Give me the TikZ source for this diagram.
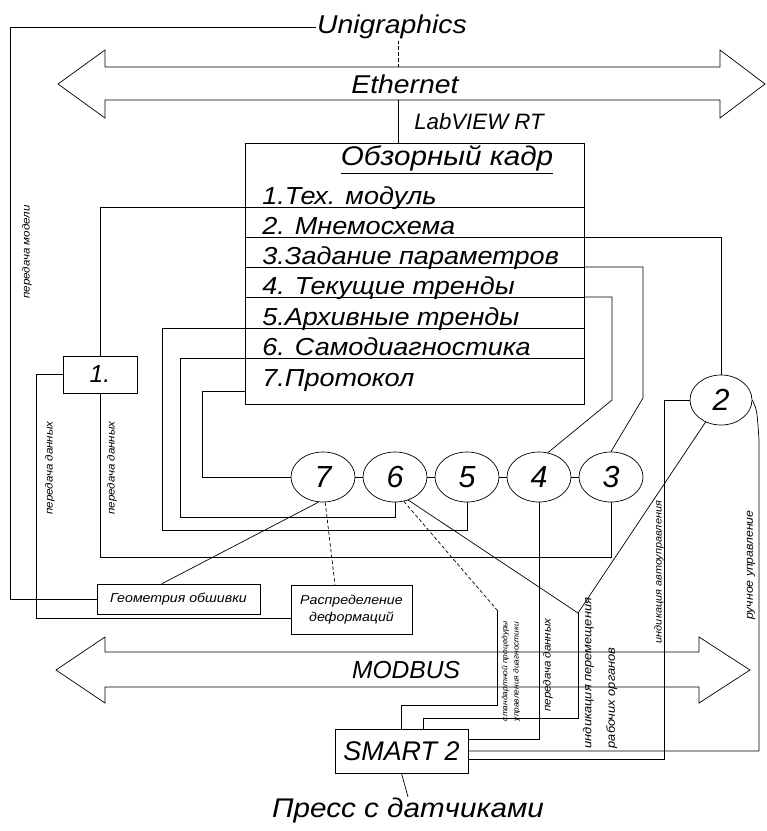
\documentclass[tikz,border=0pt]{standalone}
\usepackage{fontspec}
\setmainfont{Liberation Sans}
\newfontfamily\widefont[FakeStretch=1.1]{Liberation Sans}
\usetikzlibrary{calc, shapes.geometric, positioning}

\begin{document}
\begin{tikzpicture}[x=0.03cm, y=-0.03cm, line width=0.6pt,
    lbl/.style={inner sep=1pt, font=\itshape\fontsize{20}{22}\selectfont},
    item/.style={anchor=base west, inner sep=0pt, font=\widefont\itshape\fontsize{21}{23}\selectfont},
    oval/.style={draw, ellipse, minimum width=1.92cm, minimum height=1.5cm, inner sep=0pt, font=\itshape\fontsize{26}{28}\selectfont},
    boxnode/.style={draw, inner sep=0pt, align=center},
    note/.style={rotate=90, inner sep=0pt, font=\widefont\itshape\fontsize{9}{10}\selectfont}]

    \useasboundingbox (0,0) rectangle (767,831);

    % =================================================================
    % 1. BUS ARROWS (Ethernet, MODBUS)
    % =================================================================
    \draw (58,84) -- (105,50) -- (105,67) -- (720,67) -- (720,50) -- (765,84)
          -- (720,118) -- (720,100) -- (105,100) -- (105,118) -- cycle;
    \draw (56,670) -- (105,637) -- (105,652) -- (699,652) -- (699,637) -- (750,670)
          -- (699,703) -- (699,687) -- (105,687) -- (105,703) -- cycle;

    \coordinate (ethN) at (398,67);
    \coordinate (ethS) at (398,100);

    \node[lbl, font=\widefont\itshape\fontsize{22}{24}\selectfont] (uni) at (392,27) {Unigraphics};
    \node[lbl, font=\widefont\itshape\fontsize{22}{24}\selectfont] (eth) at (405,84) {Ethernet};
    \node[lbl, font=\itshape\fontsize{21}{23}\selectfont] (mod) at (406,670) {MODBUS};
    \node[lbl, font=\itshape\fontsize{19}{21}\selectfont] (lab) at (479,122) {LabVIEW RT};

    % =================================================================
    % 2. MAIN SCREEN BOX WITH ITEMS
    % =================================================================
    \node[draw, minimum width=10.17cm, minimum height=7.83cm, inner sep=0pt] (frame) at (414.5,273.5) {};
    \node[font=\widefont\itshape\fontsize{23}{25}\selectfont] (title) at (447,160) {\underline{Обзорный кадр}};

    \node[item] (i1) at (262,204) {1.Тех. модуль};
    \node[item] (i2) at (262,234) {2. Мнемосхема};
    \node[item] (i3) at (262,264) {3.Задание параметров};
    \node[item] (i4) at (262,294) {4. Текущие тренды};
    \node[item] (i5) at (262,325) {5.Архивные тренды};
    \node[item] (i6) at (262,355) {6. Самодиагностика};
    \node[item] (i7) at (262,386) {7.Протокол};

    \foreach \y in {207,237,267,297,328,358}
        \draw (frame.west |- 0,\y) -- (frame.east |- 0,\y);

    % =================================================================
    % 3. MODULES (ovals and boxes)
    % =================================================================
    \node[oval] (c7) at (323,477) {7};
    \node[oval] (c6) at (395,477) {6};
    \node[oval] (c5) at (467,477) {5};
    \node[oval] (c4) at (539,477) {4};
    \node[oval] (c3) at (611,477) {3};
    \node[oval, minimum width=1.86cm] (c2) at (721,400) {2};

    \node[boxnode, minimum width=2.22cm, minimum height=1.11cm, font=\itshape\fontsize{21}{23}\selectfont] (m1) at (100,374.5) {1.};
    \node[boxnode, minimum width=4.89cm, minimum height=0.9cm, font=\widefont\itshape\fontsize{11}{13}\selectfont] (geo) at (178.5,599) {Геометрия обшивки};
    \node[boxnode, minimum width=3.63cm, minimum height=1.47cm, font=\widefont\itshape\fontsize{11}{14}\selectfont] (def) at (351.5,609.5) {Распределение\\деформаций};
    \node[boxnode, minimum width=3.99cm, minimum height=1.32cm, font=\itshape\fontsize{23}{25}\selectfont] (smart) at (401.5,751) {SMART 2};
    \node[lbl, font=\widefont\itshape\fontsize{23}{25}\selectfont] (press) at (408,811) {Пресс с датчиками};

    % =================================================================
    % 4. CONNECTIONS
    % =================================================================
    \draw[densely dashed] (uni.south -| ethN) -- (ethN);
    \draw (ethS) -- (frame.north -| ethS);

    % right side of the screen box
    \draw (frame.east |- 0,237) -| (c2.north);
    \draw (frame.east |- 0,267) -- (643,267) -- (643,398) -- (c3.north);
    \draw (frame.east |- 0,297) -- (612,297) -- (612,400) -- (c4.70);

    % left side of the screen box
    \draw (frame.west |- 0,207) -| (m1.north);
    \draw (frame.west |- 0,328) -- (162,328) |- (c5.south |- 0,530) -- (c5.south);
    \draw (frame.west |- 0,358) -- (180,358) |- (c6.south |- 0,517) -- (c6.south);
    \draw (frame.west |- 0,391) -- (202,391) |- (c7.west);
    \draw (m1.south) |- (c3.south |- 0,557) -- (c3.south);

    % chain of ovals
    \draw (c7) -- (c6) (c6) -- (c5) (c5) -- (c4) (c4) -- (c3);

    % to the lower boxes
    \draw (c7.-100) -- (geo.north -| 162,0);
    \draw[densely dashed] (c7.-85) -- (def.north -| 335,0);
    \draw (uni.west) -| (10,599) -- (geo.west);
    \draw (m1.west) -| (36,618) -- (def.west |- 0,618);

    % to SMART 2
    \coordinate (jA) at (497,610);
    \coordinate (jB) at (578,613);
    \draw[densely dashed] (c6.-70) -- (jA);
    \draw (c6.-60) -- (jB);
    \draw (c2.235) -- (jB);
    \draw (jA) |- (smart.north |- 0,705) -- (smart.north);
    \draw (jB) |- (423,718) -- (423,0 |- smart.north);
    \draw (c4.south) |- (smart.east |- 0,739);
    \draw (c2.east) .. controls (757,410) .. (759,440) -- (759,751) -- (smart.east);
    \draw (c2.west) -| (664,759) -- (smart.east |- 0,759);
    \draw (smart.south) -- (press.north);

    % =================================================================
    % 5. LINE CAPTIONS
    % =================================================================
    \node[note] (ml) at (27,252) {передача модели};
    \node[note] (d1) at (50,468) {передача данных};
    \node[note] (d2) at (112,468) {передача данных};
    \node[note, align=left, font=\widefont\itshape\fontsize{6.5}{9.5}\selectfont] (sp) at (511,671) {стандартной процедуры\\управления диагностики};
    \node[note] (d3) at (548,665) {передача данных};
    \node[note, align=left, font=\widefont\itshape\fontsize{10}{20}\selectfont] (ip) at (600,673) {индикация перемещения\\рабочих органов};
    \node[note, font=\widefont\itshape\fontsize{8.5}{10}\selectfont] (ia) at (659,572) {индикация автоуправления};
    \node[note, font=\widefont\itshape\fontsize{9.5}{11}\selectfont] (ru) at (751,565) {ручное управление};

\end{tikzpicture}
\end{document}
